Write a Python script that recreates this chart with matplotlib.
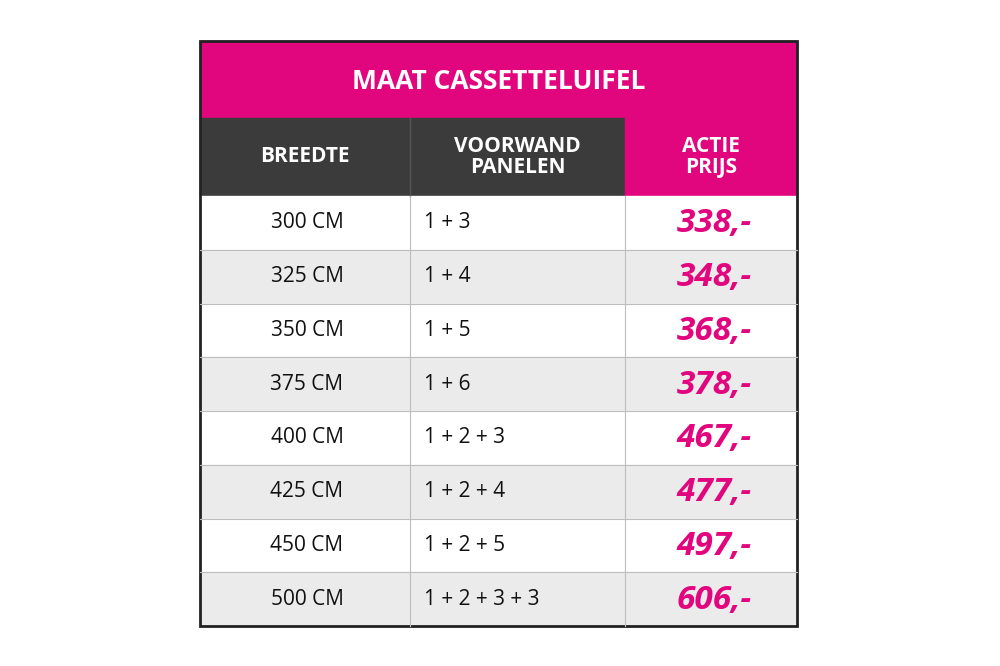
import matplotlib
matplotlib.use("Agg")
import matplotlib.pyplot as plt
from matplotlib.patches import Rectangle

title = "MAAT CASSETTELUIFEL"
headers = ["BREEDTE", "VOORWAND\nPANELEN", "ACTIE\nPRIJS"]
breedte = ["300 CM", "325 CM", "350 CM", "375 CM", "400 CM", "425 CM", "450 CM", "500 CM"]
panelen = ["1 + 3", "1 + 4", "1 + 5", "1 + 6", "1 + 2 + 3", "1 + 2 + 4", "1 + 2 + 5", "1 + 2 + 3 + 3"]
prijs = [338, 348, 368, 378, 467, 477, 497, 606]

PINK = "#E2067E"
DARK = "#3b3b3b"
GRAY = "#ebebeb"

fig = plt.figure(figsize=(10, 6.66), dpi=100)
ax = fig.add_axes([0, 0, 1, 1])
ax.set_xlim(0, 1000); ax.set_ylim(666, 0); ax.axis("off")

L, R, T = 200, 797, 41
cols = [200, 410, 625, 797]
title_b, head_b, bottom = 118, 196, 626
n = len(breedte)
rh = (bottom - head_b) / n
fam = ["Open Sans", "DejaVu Sans"]

ax.add_patch(Rectangle((L, T), R - L, title_b - T, color=PINK))
ax.text((L + R) / 2, (T + title_b) / 2 + 2, title, color="white", fontsize=19, fontweight="bold",
        ha="center", va="center", family=fam)
ax.add_patch(Rectangle((L, title_b), cols[2] - L, head_b - title_b, color=DARK))
ax.add_patch(Rectangle((cols[2], title_b), R - cols[2], head_b - title_b, color=PINK))
ax.plot([cols[1], cols[1]], [title_b, head_b], color="#555555", lw=1)
for i, h in enumerate(headers):
    ax.text((cols[i] + cols[i + 1]) / 2, (title_b + head_b) / 2, h, color="white", fontsize=15,
            fontweight="bold", ha="center", va="center", family=fam, linespacing=0.95)

for r in range(n):
    y0 = head_b + r * rh
    ax.add_patch(Rectangle((L, y0), R - L, rh, color="white" if r % 2 == 0 else GRAY))
    yc = y0 + rh / 2
    ax.text(307, yc, breedte[r], fontsize=15, ha="center", va="center", family=fam, color="#111111")
    ax.text(424, yc, panelen[r], fontsize=15, ha="left", va="center", family=fam, color="#111111")
    ax.text(752, yc + 1, f"{prijs[r]},-", fontsize=24, fontweight="bold", style="italic",
            ha="right", va="center", family=fam, color=PINK)
    if r > 0:
        ax.plot([L, R], [y0, y0], color="#bdbdbd", lw=0.8)
for c in cols[1:3]:
    ax.plot([c, c], [head_b, bottom], color="#bdbdbd", lw=0.8)
ax.add_patch(Rectangle((L, T), R - L, bottom - T, fill=False, ec="#222222", lw=2))

fig.savefig("out.png", dpi=100, facecolor="white")
